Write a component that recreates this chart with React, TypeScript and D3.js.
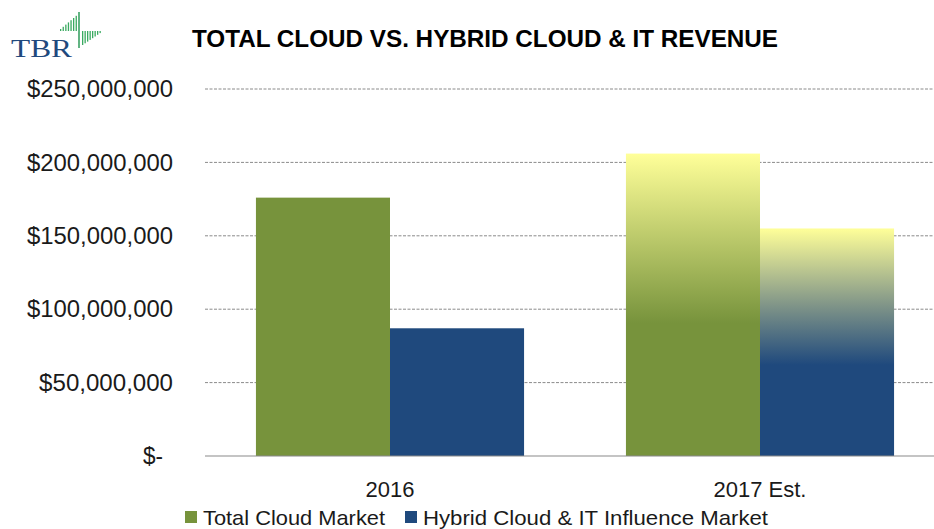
import React from "react";
import * as d3 from "d3";

const categories = ["2016", "2017 Est."];
const seriesNames = ["Total Cloud Market", "Hybrid Cloud & IT Influence Market"];
const totalCloud = [176000000, 206000000];
const hybridCloud = [87000000, 155000000];
const yTicks = [0, 50000000, 100000000, 150000000, 200000000, 250000000];
const estimated = [false, true];

const W = 934, H = 529;
const plotLeft = 205, plotRight = 945, plotTop = 89, plotBottom = 456;
const colors = ["#77933C", "#1F497D"];
const FONT = "'Liberation Sans', Arial, sans-serif";

export default function App() {
  const y = d3.scaleLinear().domain([0, 250000000]).range([plotBottom, plotTop]);
  const x0 = d3.scaleBand<string>().domain(categories).range([plotLeft, plotRight]).padding(0);
  const x1 = d3.scaleBand<string>().domain(seriesNames).range([0, x0.bandwidth()]).paddingInner(0).paddingOuter(0.38);
  const fmt = d3.format(",");
  const values = [totalCloud, hybridCloud];

  const leftBars = d3.range(7).map((i) => ({ x: 60 + i * 2.6, h: 2 + i * 2.2 }));
  const rightBars = d3.range(8).map((i) => ({ x: 82 + i * 2.5, h: 14 - i * 1.7 }));

  const labelOf = (t: number) => (t === 0 ? "$-" : "$" + fmt(t));
  // width per character approximating the reference's narrow font
  const labelWidth = (s: string) => (s === "$-" ? 20 : s.length * 12.17);

  return (
    <svg width={W} height={H} style={{ position: "absolute", left: 0, top: 0, background: "#fff" }}>
      <defs>
        <linearGradient id="gGreen" x1="0" y1="0" x2="0" y2="1">
          <stop offset="0" stopColor="#FFFF99" />
          <stop offset="0.56" stopColor="#77933C" />
          <stop offset="1" stopColor="#77933C" />
        </linearGradient>
        <linearGradient id="gBlue" x1="0" y1="0" x2="0" y2="1">
          <stop offset="0" stopColor="#FFFF99" />
          <stop offset="0.34" stopColor="#7F9488" />
          <stop offset="0.6" stopColor="#1F497D" />
          <stop offset="1" stopColor="#1F497D" />
        </linearGradient>
      </defs>

      {/* logo */}
      <g>
        <text x={11} y={57} fontFamily="'Liberation Serif', 'Times New Roman', serif" fontSize={26} fill="#1F497D" textLength={61} lengthAdjust="spacingAndGlyphs">TBR</text>
        <line x1={79} x2={79} y1={12} y2={48} stroke="#2E9B5A" strokeWidth={1.5} />
        {leftBars.map((b, i) => (
          <rect key={"l" + i} x={b.x} y={31 - b.h} width={1.3} height={b.h} fill="#3AAA60" />
        ))}
        {rightBars.map((b, i) => (
          <rect key={"r" + i} x={b.x} y={31} width={1.3} height={Math.max(1, b.h)} fill="#3AAA60" />
        ))}
      </g>

      {/* title */}
      <text x={192} y={47} fontFamily={FONT} fontWeight="bold" fontSize={24} fill="#000" textLength={586} lengthAdjust="spacingAndGlyphs">
        TOTAL CLOUD VS. HYBRID CLOUD &amp; IT REVENUE
      </text>

      {/* grid */}
      {yTicks.map((t) => {
        const s = labelOf(t);
        return (
          <g key={t}>
            {t !== 0 && (
              <line x1={plotLeft} x2={W} y1={y(t)} y2={y(t)} stroke="#8a8a8a" strokeWidth={1} strokeDasharray="3,1.5" />
            )}
            <text
              x={t === 0 ? 163 : 173}
              y={y(t)}
              dy="0.36em"
              textAnchor="end"
              fontFamily={FONT}
              fontSize={23}
              fill="#1a1a1a"
              textLength={labelWidth(s)}
              lengthAdjust="spacingAndGlyphs"
            >
              {s}
            </text>
          </g>
        );
      })}

      {/* bars */}
      {categories.map((c, ci) => (
        <g key={c} transform={`translate(${x0(c)},0)`}>
          {seriesNames.map((s, si) => {
            const v = values[si][ci];
            const fill = estimated[ci] ? (si === 0 ? "url(#gGreen)" : "url(#gBlue)") : colors[si];
            return (
              <rect key={s} x={x1(s)} y={y(v)} width={x1.bandwidth()} height={y(0) - y(v)} fill={fill} />
            );
          })}
          <text x={x0.bandwidth() / 2} y={497} textAnchor="middle" fontFamily={FONT} fontSize={22} fill="#1a1a1a">
            {c}
          </text>
        </g>
      ))}

      {/* zero axis */}
      <line x1={plotLeft} x2={W} y1={y(0)} y2={y(0)} stroke="#8a8a8a" strokeWidth={1.2} />

      {/* legend */}
      <g fontFamily={FONT} fontSize={21} fill="#1a1a1a">
        <rect x={185} y={511} width={12} height={12} fill={colors[0]} />
        <text x={203} y={525} textLength={182} lengthAdjust="spacingAndGlyphs">{seriesNames[0]}</text>
        <rect x={405} y={511} width={12} height={12} fill={colors[1]} />
        <text x={423} y={525} textLength={345} lengthAdjust="spacingAndGlyphs">{seriesNames[1]}</text>
      </g>
    </svg>
  );
}
